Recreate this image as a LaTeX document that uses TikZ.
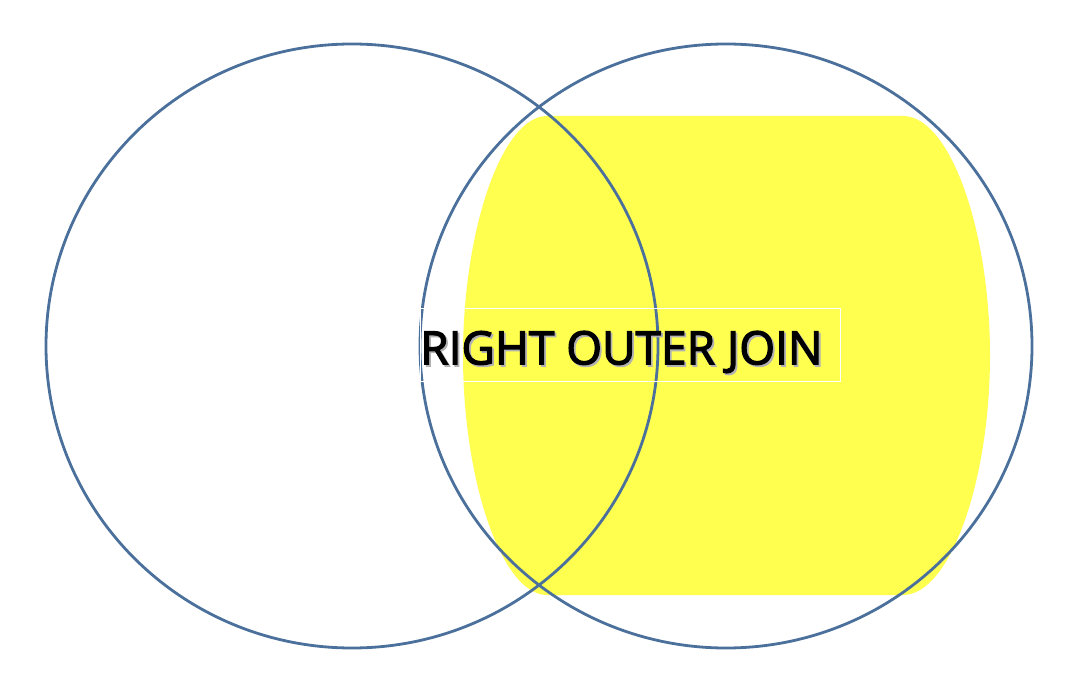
\documentclass[tikz,border=0pt]{standalone}
\usepackage{fontspec}
\setsansfont{Open Sans}
\newfontfamily\labelfont[FakeBold=2.6]{Open Sans}
\usepackage{tikz}
\usetikzlibrary{positioning}
\definecolor{setblue}{RGB}{74,112,155}
\definecolor{joinyellow}{RGB}{255,255,80}
\newcommand{\shadowed}[1]{\rlap{\hspace{1.8pt}\raisebox{-1.8pt}{\textcolor{black!30}{#1}}}#1}

\begin{document}
\begin{tikzpicture}[x=1pt, y=-1pt, setcircle/.style={draw=setblue, line width=2.8pt}]
    \useasboundingbox (0,0) rectangle (1086,700);
    \fill[joinyellow] (547,116) -- (903,116) .. controls (950,116) and (990,230) .. (990,355.5) .. controls (990,481) and (950,595) .. (903,595) -- (547,595) .. controls (502,595) and (463,481) .. (463,355.5) .. controls (463,230) and (502,116) .. (547,116) -- cycle;
    \draw[setcircle] (352,346) ellipse [x radius=306, y radius=302];
    \draw[setcircle] (726,346) ellipse [x radius=306, y radius=302];
    \node[draw=white, line width=0.8pt, minimum width=420, minimum height=73, inner sep=0, anchor=north west] (joinbox) at (420,308) {};
    \node[anchor=west, inner sep=0, yshift=-8pt, font=\labelfont\fontsize{46}{46}\selectfont] (joinlabel) at (joinbox.west) {\shadowed{RIGHT OUTER JOIN}};
\end{tikzpicture}
\end{document}
